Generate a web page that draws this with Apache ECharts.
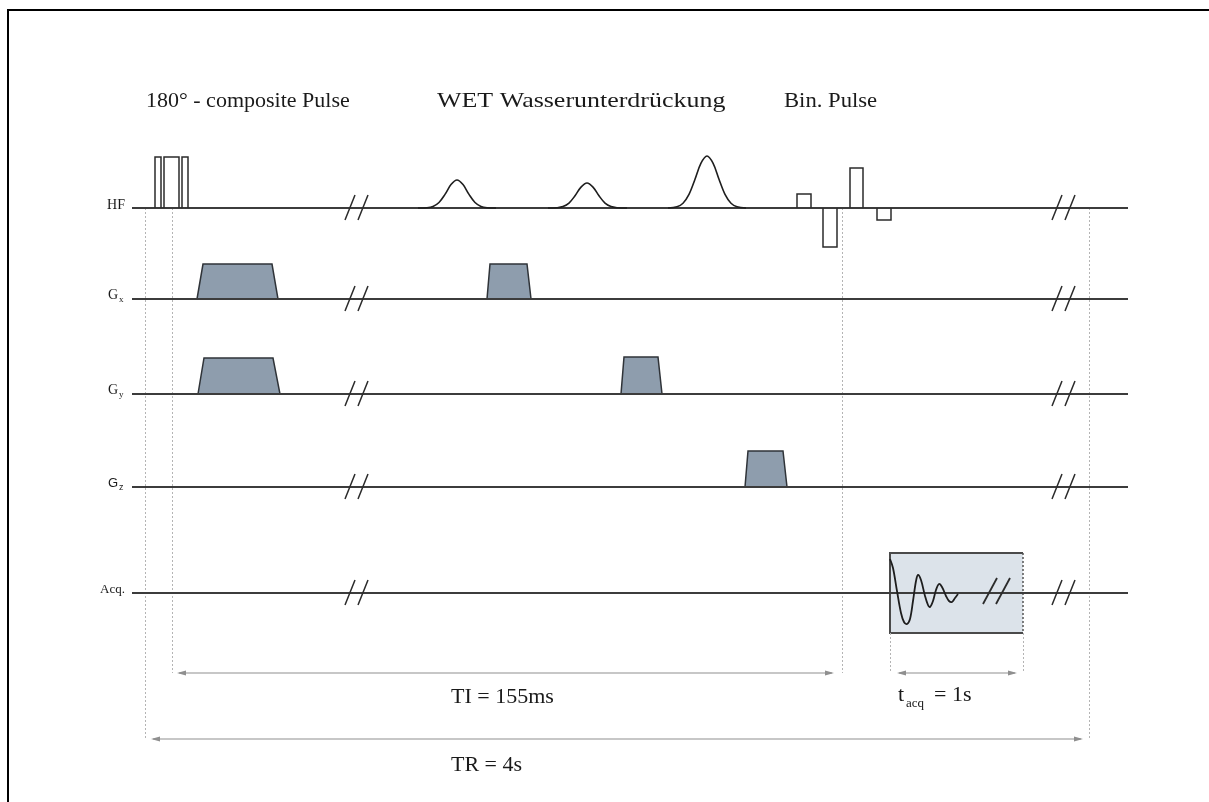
<!DOCTYPE html>
<html><head><meta charset="utf-8">
<script src="https://cdn.jsdelivr.net/npm/echarts@6/dist/echarts.min.js"></script>
<style>html,body{margin:0;padding:0;background:#fff}#c{width:1209px;height:802px}</style>
</head><body><div id="c"></div>
<script>
// ---------- data (diagram units: t = time axis, amplitude above the channel baseline) ----------
const channelNames = ['HF', 'G', 'G', 'G', 'Acq.'];
const channelSubs = ['', 'x', 'y', 'z', ''];
const channelBaselines = [208, 299, 394, 487, 593];
const timeRange = [132, 1128];
const breakTimes = [357, 1064];

// 180° composite pulses on HF: [tStart, tEnd, amplitude]
const compositePulses = [[155, 161, 51], [164, 179, 51], [182, 188, 51]];

// WET gaussian pulses on HF: [t, amplitude]
const wetPulse1 = [[418,0],[427,0.3],[433,1.6],[439,5.5],[445,13.6],[451,23.4],[457,28],[463,23.4],[469,13.6],[475,5.5],[481,1.6],[487,0.3],[496,0]];
const wetPulse2 = [[548,0],[557,0.3],[563,1.4],[569,4.9],[575,12.2],[581,20.9],[587,25],[593,20.9],[599,12.2],[605,4.9],[611,1.4],[617,0.3],[627,0]];
const wetPulse3 = [[668,0],[677,1.3],[683,4.8],[689,13.6],[695,28.7],[701,44.8],[707,52],[713,44.8],[719,28.7],[725,13.6],[731,4.8],[737,1.3],[746,0]];

// binomial pulses on HF: [tStart, tEnd, amplitude]
const binPulses = [[797, 811, 14], [823, 837, -39], [850, 863, 40], [877, 891, -12]];

// gradient lobes: [channel, tBaseStart, tTopStart, tTopEnd, tBaseEnd, amplitude]
const gradientLobes = [
  [1, 197, 203, 272, 278, 35],
  [1, 487, 490, 527, 531, 35],
  [2, 198, 204, 273, 280, 36],
  [2, 621, 624, 658, 662, 37],
  [3, 745, 748, 783, 787, 36]
];

// acquisition window: [tStart, tEnd, ampTop, ampBottom]
const acqWindow = [890, 1023, 40, -40];
// FID samples: [t, amplitude]
const fidSignal = [[890,34],[893,25],[897,2],[901,-20],[904,-29],[907,-31],[910,-26],[913,-8],[916,12],[918,18],[921,13],[925,-3],[928,-12],[930,-14],[933,-8],[936,3],[939,9],[942,6],[946,-3],[949,-8],[952,-9],[955,-5],[958,-1]];
const acqBreakTime = 997;

// timing guides: [t, fromLevel, toLevel]
const guideLines = [[145, 208, 739], [172, 208, 673], [842, 208, 673], [890, 633, 673], [1023, 633, 673], [1089, 208, 739]];
// intervals: [tStart, tEnd, level]
const intervals = [[177, 834, 673], [897, 1017, 673], [151, 1083, 739]];

const titleTexts = ['180° - composite Pulse', 'WET Wasserunterdrückung', 'Bin. Pulse'];
const intervalTexts = ['TI = 155ms', 'TR = 4s'];

// ---------- styles / layout ----------
const INK = '#2b2b2b', BASE = '#3c3c3c', GUIDE = '#b4b4b4', ARROW = '#8f8f8f';
const SERIF = '"Liberation Serif", "Times New Roman", serif';
const SANS = '"Liberation Sans", Arial, sans-serif';

const chart = echarts.init(document.getElementById('c'));

function custom(name, data, render, z) {
  return { type: 'custom', name, data: data.map((d, i) => [i]), z: z, silent: true, clip: false,
    renderItem: (params, api) => render(data[params.dataIndex], api) };
}
const P = (api, t, y) => api.coord([t, y]);

const series = [];

// acquisition window box (under baseline)
series.push(custom('acqBox', [acqWindow], (w, api) => {
  const b = channelBaselines[4];
  const tl = P(api, w[0], b - w[2]), br = P(api, w[1], b - w[3]);
  return { type: 'group', children: [
    { type: 'rect', shape: { x: tl[0], y: tl[1], width: br[0] - tl[0], height: br[1] - tl[1] }, style: { fill: '#dce3ea' } },
    { type: 'polyline', shape: { points: [[br[0], tl[1]], [tl[0], tl[1]], [tl[0], br[1]], [br[0], br[1]]] }, style: { stroke: '#4a4a4a', lineWidth: 2, fill: null } },
    { type: 'line', shape: { x1: br[0], y1: tl[1], x2: br[0], y2: br[1] }, style: { stroke: '#555', lineWidth: 1.5, lineDash: [2, 2] } }
  ]};
}, 1));

// guides
series.push({ type: 'lines', coordinateSystem: 'cartesian2d', z: 2, silent: true,
  lineStyle: { color: GUIDE, width: 1, type: [2, 2], opacity: 1 },
  data: guideLines.map(g => ({ coords: [[g[0], g[1]], [g[0], g[2]]] })) });

// intervals with arrow heads at both ends
series.push(custom('intervals', intervals, (g, api) => {
  const a = P(api, g[0], g[2]), c = P(api, g[1], g[2]);
  const L = 9, H = 2.6;
  return { type: 'group', children: [
    { type: 'line', shape: { x1: a[0] + 2, y1: a[1], x2: c[0] - 2, y2: c[1] }, style: { stroke: ARROW, lineWidth: 1.2 } },
    { type: 'polygon', shape: { points: [[a[0], a[1]], [a[0] + L, a[1] - H], [a[0] + L, a[1] + H]] }, style: { fill: ARROW } },
    { type: 'polygon', shape: { points: [[c[0], c[1]], [c[0] - L, c[1] - H], [c[0] - L, c[1] + H]] }, style: { fill: ARROW } }
  ]};
}, 3));

// gradient lobes
series.push(custom('gradients', gradientLobes, (g, api) => {
  const b = channelBaselines[g[0]];
  return { type: 'polygon', shape: { points: [P(api, g[1], b), P(api, g[2], b - g[5]), P(api, g[3], b - g[5]), P(api, g[4], b)] },
    style: { fill: '#8e9dad', stroke: '#2f3338', lineWidth: 1.5 } };
}, 4));

// baselines
series.push(custom('baselines', channelBaselines, (b, api) => {
  const a = P(api, timeRange[0], b), c = P(api, timeRange[1], b);
  return { type: 'line', shape: { x1: a[0], y1: a[1], x2: c[0], y2: c[1] }, style: { stroke: BASE, lineWidth: 2 } };
}, 5));

// breaks
series.push(custom('breaks', channelBaselines, (b, api) => {
  const children = [];
  breakTimes.forEach(tc => {
    [-7, 6].forEach(off => {
      const p1 = P(api, tc + off - 5, b + 12), p2 = P(api, tc + off + 5, b - 13);
      children.push({ type: 'line', shape: { x1: p1[0], y1: p1[1], x2: p2[0], y2: p2[1] }, style: { stroke: INK, lineWidth: 1.5 } });
    });
  });
  return { type: 'group', children };
}, 6));

// rectangular RF pulses
series.push(custom('rectPulses', compositePulses.concat(binPulses), (p, api) => {
  const b = channelBaselines[0];
  return { type: 'polyline', shape: { points: [P(api, p[0], b), P(api, p[0], b - p[2]), P(api, p[1], b - p[2]), P(api, p[1], b)] },
    style: { stroke: INK, lineWidth: 1.5, fill: null } };
}, 6));

// gaussian pulses
series.push(custom('wet', [wetPulse1, wetPulse2, wetPulse3], (arr, api) => {
  const b = channelBaselines[0];
  return { type: 'polyline', shape: { points: arr.map(d => P(api, d[0], b - d[1])), smooth: 0.35 },
    style: { stroke: '#1e1e1e', lineWidth: 1.6, fill: null } };
}, 6));

// FID and break inside acquisition window
series.push(custom('fid', [fidSignal], (arr, api) => {
  const b = channelBaselines[4];
  const children = [{ type: 'polyline', shape: { points: arr.map(d => P(api, d[0], b - d[1])), smooth: 0.35 },
    style: { stroke: '#1e1e1e', lineWidth: 1.8, fill: null } }];
  [-7, 6].forEach(off => {
    const p1 = P(api, acqBreakTime + off - 7, b + 11), p2 = P(api, acqBreakTime + off + 7, b - 15);
    children.push({ type: 'line', shape: { x1: p1[0], y1: p1[1], x2: p2[0], y2: p2[1] }, style: { stroke: INK, lineWidth: 1.8 } });
  });
  return { type: 'group', children };
}, 7));

// ---------- texts ----------
const graphic = [
  { type: 'line', shape: { x1: 8, y1: 10, x2: 1209, y2: 10 }, style: { stroke: '#000', lineWidth: 2 } },
  { type: 'line', shape: { x1: 8, y1: 9, x2: 8, y2: 802 }, style: { stroke: '#000', lineWidth: 2 } }
];
const titleX = [146, 437, 784];
const titleScaleX = [1, 1.18, 1.03];
titleTexts.forEach((t, i) => graphic.push({ type: 'text', x: titleX[i], y: 101, scaleX: titleScaleX[i],
  style: { text: t, fontSize: 22, fontFamily: SERIF, fill: '#1a1a1a', align: 'left', verticalAlign: 'middle' } }));

channelNames.forEach((n, i) => {
  const y = channelBaselines[i];
  const sans = channelSubs[i] === 'z';
  if (!channelSubs[i]) {
    graphic.push({ type: 'text', x: 125, y: y - 3, style: { text: n, fontSize: i === 0 ? 14 : 13, fontFamily: SERIF, fill: '#1a1a1a', align: 'right', verticalAlign: 'middle' } });
  } else {
    graphic.push({ type: 'text', x: 118, y: y - 4, style: { text: n, fontSize: sans ? 13 : 14, fontFamily: sans ? SANS : SERIF, fill: '#1a1a1a', align: 'right', verticalAlign: 'middle' } });
    graphic.push({ type: 'text', x: 119, y: y + 1, style: { text: channelSubs[i], fontSize: 9, fontFamily: sans ? SANS : SERIF, fill: '#1a1a1a', align: 'left', verticalAlign: 'middle' } });
  }
});

graphic.push({ type: 'text', x: 451, y: 697, style: { text: intervalTexts[0], fontSize: 22, fontFamily: SERIF, fill: '#1a1a1a', align: 'left', verticalAlign: 'middle' } });
graphic.push({ type: 'text', x: 451, y: 765, style: { text: intervalTexts[1], fontSize: 22, fontFamily: SERIF, fill: '#1a1a1a', align: 'left', verticalAlign: 'middle' } });
graphic.push({ type: 'text', x: 898, y: 695, style: { text: 't', fontSize: 22, fontFamily: SERIF, fill: '#1a1a1a', align: 'left', verticalAlign: 'middle' } });
graphic.push({ type: 'text', x: 906, y: 704, style: { text: 'acq', fontSize: 13, fontFamily: SERIF, fill: '#1a1a1a', align: 'left', verticalAlign: 'middle' } });
graphic.push({ type: 'text', x: 934, y: 695, style: { text: '= 1s', fontSize: 22, fontFamily: SERIF, fill: '#1a1a1a', align: 'left', verticalAlign: 'middle' } });

chart.setOption({
  animation: false,
  backgroundColor: '#fff',
  grid: { left: 0, right: 0, top: 0, bottom: 0 },
  xAxis: { type: 'value', min: 0, max: 1209, show: false },
  yAxis: { type: 'value', min: 0, max: 802, inverse: true, show: false },
  series: series,
  graphic: graphic
});
</script></body></html>
